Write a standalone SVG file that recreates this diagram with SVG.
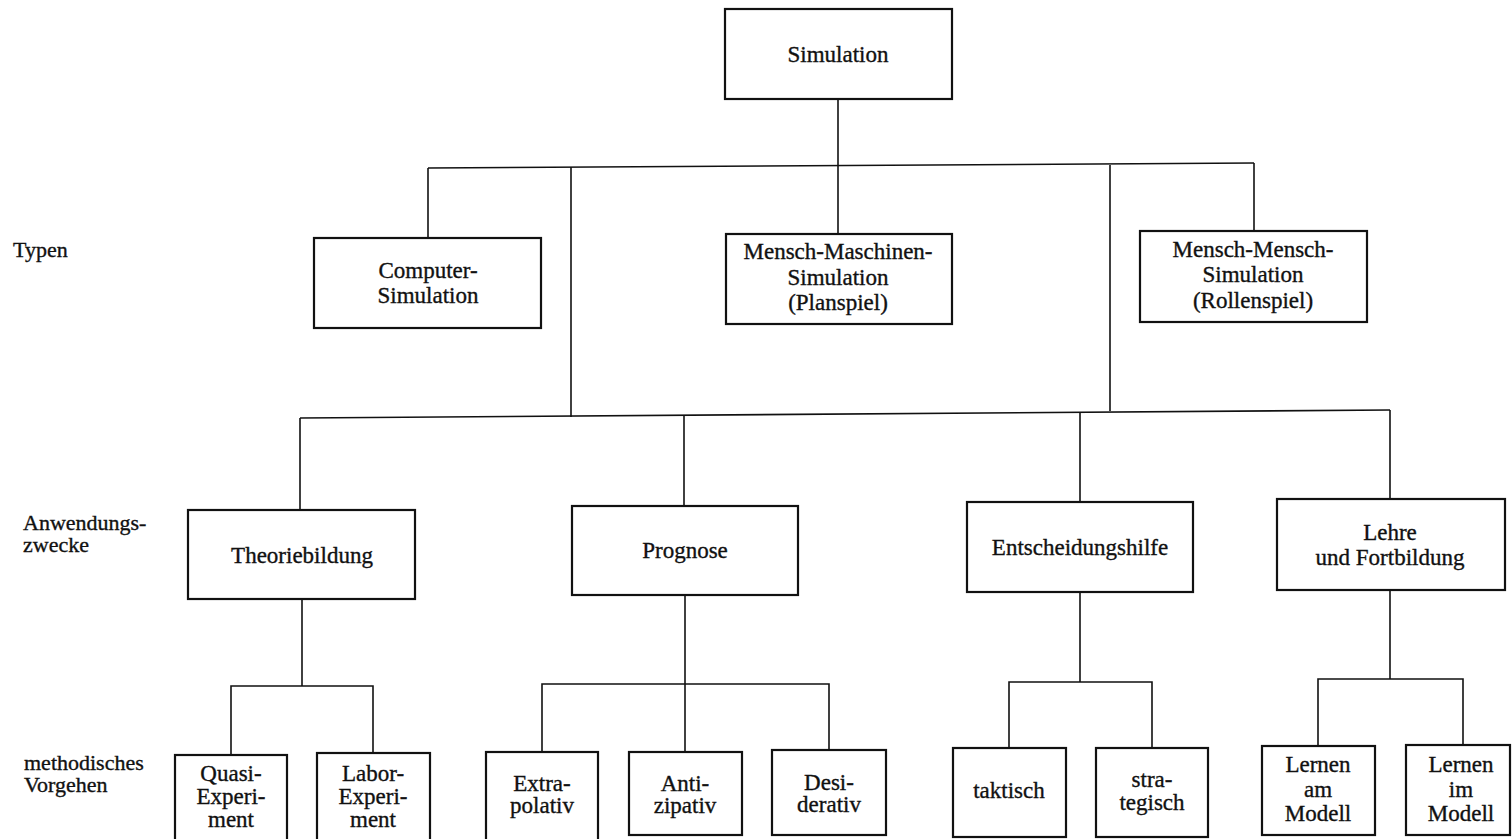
<svg xmlns="http://www.w3.org/2000/svg" width="1512" height="839" viewBox="0 0 1512 839">
<style>
  .box { fill: #ffffff; stroke: #111111; stroke-width: 2.2; }
  .conn { fill: none; stroke: #111111; stroke-width: 1.6; }
  text { font-family: "Liberation Serif", "Times New Roman", "DejaVu Serif", serif; font-size: 23px; fill: #111111; stroke: #111111; stroke-width: 0.35; }
  .c { text-anchor: middle; }
  .lbl { font-size: 22px; }
</style>
<rect x="0" y="0" width="1512" height="839" fill="#ffffff"/>

<g id="connectors">
  <path class="conn" d="M838 99 V166"/>
  <path class="conn" d="M428 168 L1254 163"/>
  <path class="conn" d="M428 168 V238"/>
  <path class="conn" d="M838 166 V234"/>
  <path class="conn" d="M1254 163 V231"/>
  <path class="conn" d="M571 167 V417"/>
  <path class="conn" d="M1110 165 V411"/>
  <path class="conn" d="M300 418 L1390 410"/>
  <path class="conn" d="M300 418 V510"/>
  <path class="conn" d="M684 415 V506"/>
  <path class="conn" d="M1080 412 V502"/>
  <path class="conn" d="M1390 410 V499"/>
  <path class="conn" d="M302 599 V686"/>
  <path class="conn" d="M231 755 V686 H373 V753"/>
  <path class="conn" d="M685 595 V752"/>
  <path class="conn" d="M542 752 V684 H829 V750"/>
  <path class="conn" d="M1080 592 V682"/>
  <path class="conn" d="M1009 748 V682 H1152 V748"/>
  <path class="conn" d="M1390 590 V679"/>
  <path class="conn" d="M1318 746 V679 H1463 V745"/>
</g>

<g id="labels">
  <text class="lbl" x="13" y="257">Typen</text>
  <text class="lbl" x="23" y="530">Anwendungs-</text>
  <text class="lbl" x="23" y="552">zwecke</text>
  <text class="lbl" x="24" y="770">methodisches</text>
  <text class="lbl" x="24" y="792">Vorgehen</text>
</g>

<g id="simulation">
  <rect class="box" x="725" y="9" width="227" height="90"/>
  <text class="c" x="838" y="62">Simulation</text>
</g>

<g id="computer-simulation">
  <rect class="box" x="314" y="238" width="227" height="90"/>
  <text class="c" x="428" y="278">Computer-</text>
  <text class="c" x="428" y="303">Simulation</text>
</g>

<g id="mensch-maschinen">
  <rect class="box" x="726" y="234" width="226" height="90"/>
  <text class="c" x="838" y="259">Mensch-Maschinen-</text>
  <text class="c" x="838" y="285">Simulation</text>
  <text class="c" x="838" y="310">(Planspiel)</text>
</g>

<g id="mensch-mensch">
  <rect class="box" x="1140" y="231" width="227" height="91"/>
  <text class="c" x="1253" y="257">Mensch-Mensch-</text>
  <text class="c" x="1253" y="282">Simulation</text>
  <text class="c" x="1253" y="308">(Rollenspiel)</text>
</g>

<g id="theoriebildung">
  <rect class="box" x="188" y="510" width="227" height="89"/>
  <text class="c" x="302" y="563">Theoriebildung</text>
</g>

<g id="prognose">
  <rect class="box" x="572" y="506" width="226" height="89"/>
  <text class="c" x="685" y="558">Prognose</text>
</g>

<g id="entscheidungshilfe">
  <rect class="box" x="967" y="502" width="226" height="90"/>
  <text class="c" x="1080" y="555">Entscheidungshilfe</text>
</g>

<g id="lehre">
  <rect class="box" x="1277" y="499" width="228" height="91"/>
  <text class="c" x="1390" y="540">Lehre</text>
  <text class="c" x="1390" y="565">und Fortbildung</text>
</g>

<g id="quasi-experiment">
  <rect class="box" x="175" y="755" width="112" height="95"/>
  <text class="c" x="231" y="781">Quasi-</text>
  <text class="c" x="231" y="804">Experi-</text>
  <text class="c" x="231" y="827">ment</text>
</g>

<g id="labor-experiment">
  <rect class="box" x="317" y="753" width="113" height="97"/>
  <text class="c" x="373" y="781">Labor-</text>
  <text class="c" x="373" y="804">Experi-</text>
  <text class="c" x="373" y="827">ment</text>
</g>

<g id="extrapolativ">
  <rect class="box" x="486" y="752" width="112" height="98"/>
  <text class="c" x="542" y="791">Extra-</text>
  <text class="c" x="542" y="813">polativ</text>
</g>

<g id="antizipativ">
  <rect class="box" x="629" y="752" width="113" height="83"/>
  <text class="c" x="685" y="791">Anti-</text>
  <text class="c" x="685" y="813">zipativ</text>
</g>

<g id="desiderativ">
  <rect class="box" x="772" y="750" width="114" height="85"/>
  <text class="c" x="829" y="790">Desi-</text>
  <text class="c" x="829" y="812">derativ</text>
</g>

<g id="taktisch">
  <rect class="box" x="953" y="748" width="113" height="89"/>
  <text class="c" x="1009" y="798">taktisch</text>
</g>

<g id="strategisch">
  <rect class="box" x="1096" y="748" width="112" height="89"/>
  <text class="c" x="1152" y="787">stra-</text>
  <text class="c" x="1152" y="810">tegisch</text>
</g>

<g id="lernen-am-modell">
  <rect class="box" x="1262" y="746" width="113" height="89"/>
  <text class="c" x="1318" y="772">Lernen</text>
  <text class="c" x="1318" y="797">am</text>
  <text class="c" x="1318" y="821">Modell</text>
</g>

<g id="lernen-im-modell">
  <rect class="box" x="1406" y="745" width="104" height="90"/>
  <text class="c" x="1461" y="772">Lernen</text>
  <text class="c" x="1461" y="797">im</text>
  <text class="c" x="1461" y="821">Modell</text>
</g>
</svg>
